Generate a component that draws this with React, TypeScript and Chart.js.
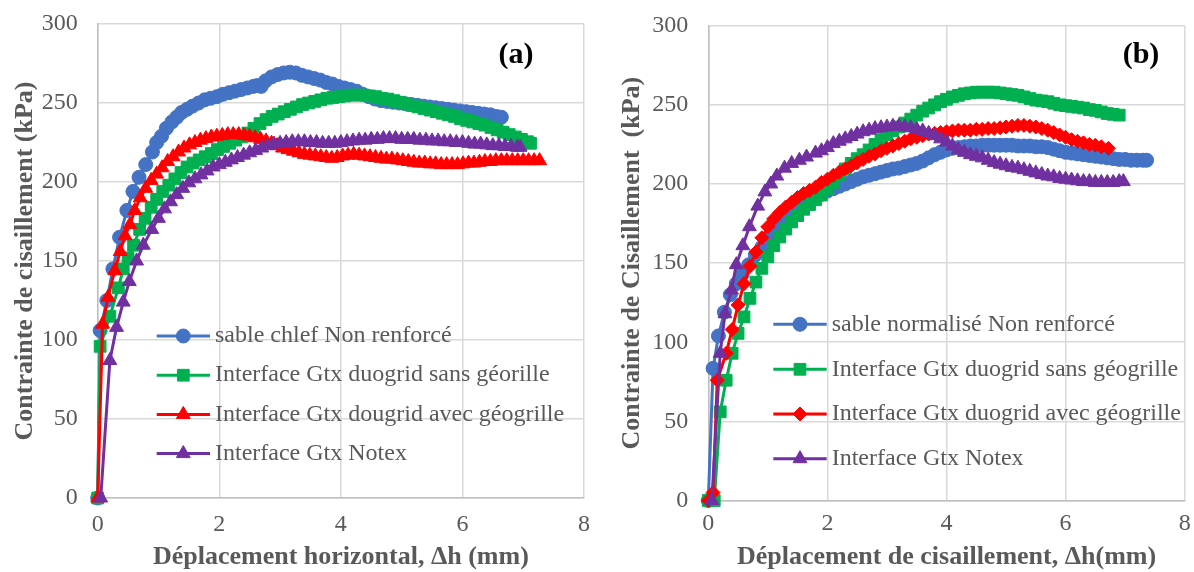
import React, { useEffect, useRef } from "react";
import { Chart, registerables } from "chart.js";

Chart.register(...registerables);

type Pt = [number, number];

// ---------- tick labels ----------
const xTicks = [0, 2, 4, 6, 8];
const yTicks = [0, 50, 100, 150, 200, 250, 300];

// ---------- colours ----------
const BLUE = "#4472C4";
const GREEN = "#00B050";
const RED = "#FF0000";
const PURPLE = "#7030A0";
const TEXT = "#595959";
const GRID = "#d9d9d9";
const FONT = "'Liberation Serif', 'Times New Roman', serif";

// ---------- panel (a) ----------
const aLabels = [
  "sable chlef Non renforcé",
  "Interface Gtx duogrid sans géorille",
  "Interface Gtx dougrid avec géogrille",
  "Interface Gtx Notex",
];

const aSable: Pt[] = [[0,0],[0.04,106],[0.15,125],[0.25,145],[0.36,165],[0.48,182],[0.58,194],[0.68,203],[0.79,211],[0.9,219],[0.97,225],[1.05,229],[1.13,234],[1.22,238],[1.3,241],[1.38,244],[1.47,246],[1.56,248],[1.66,250],[1.76,252],[1.86,253],[1.96,254],[2.06,255.5],[2.16,256.5],[2.26,257.5],[2.36,258.5],[2.46,259.5],[2.56,260.5],[2.62,261],[2.69,260.5],[2.76,264],[2.86,266.5],[2.96,268],[3.06,269],[3.16,269.5],[3.26,269],[3.36,267.5],[3.46,266.5],[3.56,265.5],[3.66,264.5],[3.76,263],[3.86,262],[3.96,260.5],[4.06,259.5],[4.16,258.5],[4.26,257.5],[4.36,255.5],[4.46,254],[4.56,252.5],[4.66,251.5],[4.76,251],[4.86,250.5],[4.96,250],[5.06,249.5],[5.16,249],[5.26,248.5],[5.36,248],[5.46,247.5],[5.56,247],[5.66,246.5],[5.76,246],[5.86,245.5],[5.96,245],[6.06,244.5],[6.16,244],[6.26,243.5],[6.36,243],[6.46,242.5],[6.56,241.5],[6.64,241]];

const aSans: Pt[] = [[0,0],[0.04,96],[0.2,115],[0.34,133],[0.42,145],[0.5,152],[0.59,160],[0.69,170],[0.78,177],[0.88,184],[0.97,189],[1.07,194],[1.17,198],[1.27,202],[1.37,206],[1.47,209.5],[1.57,212],[1.67,214],[1.77,216],[1.87,218],[1.97,220.5],[2.07,222.5],[2.17,224.5],[2.27,226.5],[2.37,228.5],[2.47,231],[2.57,234],[2.67,237],[2.77,239.5],[2.87,241.5],[2.97,243],[3.07,244.5],[3.17,246],[3.27,247.5],[3.37,249],[3.47,250],[3.57,251],[3.67,252],[3.77,253],[3.87,253.5],[3.97,254],[4.07,254.5],[4.17,255],[4.27,255],[4.37,255],[4.47,254.5],[4.57,254],[4.67,253],[4.77,252.5],[4.87,251.5],[4.97,250.5],[5.07,249.5],[5.17,248.5],[5.27,247.5],[5.37,246.5],[5.47,245.5],[5.57,244.5],[5.67,243.5],[5.77,242.5],[5.87,241.5],[5.97,240],[6.07,239],[6.17,238],[6.27,237],[6.37,236],[6.47,234.5],[6.57,233],[6.67,231.5],[6.77,230],[6.87,228.5],[6.97,227],[7.07,225.5],[7.12,224.5]];

const aAvec: Pt[] = [[0,0],[0.08,110],[0.17,127],[0.28,144],[0.37,156],[0.45,166],[0.53,173],[0.61,182],[0.7,190],[0.79,196],[0.88,201],[0.97,205],[1.06,209],[1.15,213],[1.24,216],[1.33,219],[1.42,221.5],[1.51,223.5],[1.6,225],[1.69,226.5],[1.78,227.5],[1.87,228.5],[1.96,229],[2.05,229.5],[2.14,230],[2.23,230],[2.32,230],[2.41,229.5],[2.5,229],[2.59,228],[2.68,227],[2.77,226],[2.86,224.5],[2.95,223],[3.04,221.5],[3.13,220.5],[3.22,219.5],[3.31,218.5],[3.4,217.5],[3.49,217],[3.58,216.5],[3.67,216],[3.76,215.5],[3.85,215],[3.94,215.5],[4.03,216.5],[4.12,217],[4.21,217.5],[4.3,217],[4.39,216.5],[4.48,216],[4.57,215.5],[4.66,215],[4.75,214.5],[4.84,214.5],[4.93,214],[5.02,213.5],[5.11,213],[5.2,212.5],[5.29,212],[5.38,212],[5.47,211.5],[5.56,211.5],[5.65,211],[5.74,211],[5.83,211],[5.92,211],[6.01,211.5],[6.1,212],[6.19,212],[6.28,212.5],[6.37,213],[6.46,213],[6.55,213.5],[6.64,213.5],[6.73,213.5],[6.82,213.5],[6.91,213.5],[7.0,213.5],[7.09,213.5],[7.18,213.5],[7.27,213.5]];

const aNotex: Pt[] = [[0.05,0],[0.2,87],[0.31,108],[0.42,124],[0.52,137],[0.64,150],[0.75,160],[0.89,170],[1.0,177],[1.1,183],[1.2,187.5],[1.3,192],[1.4,196],[1.5,199.5],[1.6,202],[1.7,204.5],[1.8,207],[1.9,209.5],[2.0,211],[2.1,212.5],[2.2,214],[2.3,215.5],[2.4,217],[2.5,218.5],[2.6,220],[2.7,221.5],[2.8,223],[2.9,224],[3.0,224.5],[3.1,225],[3.2,225.5],[3.3,225.5],[3.4,225.5],[3.5,225],[3.6,225],[3.7,224.5],[3.8,224.5],[3.9,224.5],[4.0,225],[4.1,225.5],[4.2,226],[4.3,226.5],[4.4,226.5],[4.5,227],[4.6,227],[4.7,227.5],[4.8,227.5],[4.9,227.5],[5.0,227],[5.1,227],[5.2,227],[5.3,226.5],[5.4,226.5],[5.5,226],[5.6,226],[5.7,225.5],[5.8,225.5],[5.9,225],[6.0,225],[6.1,224.5],[6.2,224],[6.3,224],[6.4,223.5],[6.5,223],[6.6,223],[6.7,222.5],[6.8,222.5],[6.9,222],[6.95,222]];

// ---------- panel (b) ----------
const bLabels = [
  "sable normalisé Non renforcé",
  "Interface Gtx duogrid sans géogrille",
  "Interface Gtx duogrid avec géogrille",
  "Interface Gtx Notex",
];

const bSable: Pt[] = [[0,0],[0.08,83.5],[0.17,104],[0.27,119],[0.37,130],[0.47,137],[0.57,143],[0.68,149],[0.79,155],[0.9,160],[1.0,165],[1.1,169.5],[1.2,173.5],[1.3,177],[1.4,180.5],[1.5,183.5],[1.6,186.5],[1.7,189],[1.8,191.5],[1.9,193.5],[2.0,195.5],[2.1,197],[2.2,198.5],[2.3,200],[2.4,201.5],[2.5,203],[2.6,204.5],[2.7,205.5],[2.8,206.5],[2.9,207.5],[3.0,208.5],[3.1,209.5],[3.2,210],[3.3,211],[3.4,212],[3.5,213],[3.6,214.5],[3.7,216.5],[3.8,218.5],[3.9,220],[4.0,221.5],[4.1,222.5],[4.2,223],[4.3,223.5],[4.4,224],[4.5,224],[4.6,224.5],[4.7,224.5],[4.8,224.5],[4.9,224.5],[5.0,224.5],[5.1,224.5],[5.2,224],[5.3,224],[5.4,224],[5.5,223.5],[5.6,223.5],[5.7,223],[5.8,222],[5.9,221],[6.0,220],[6.1,219.5],[6.2,219],[6.3,218.5],[6.4,218],[6.5,217.5],[6.6,217],[6.7,216.5],[6.8,216],[6.9,215.5],[7.0,215.5],[7.1,215],[7.2,215],[7.3,215],[7.36,215]];

const bSans: Pt[] = [[0,0],[0.1,0],[0.2,56],[0.3,76],[0.4,93],[0.5,105.6],[0.6,116],[0.7,127.7],[0.8,138],[0.9,146.7],[1.0,154],[1.1,161],[1.2,166.5],[1.3,171.5],[1.4,176],[1.5,180],[1.6,184],[1.7,187],[1.8,190],[1.9,193],[2.0,197],[2.1,201],[2.2,205.5],[2.3,209.5],[2.4,213],[2.5,216],[2.6,218.5],[2.7,221.5],[2.8,225],[2.9,228],[3.0,231],[3.1,233.5],[3.2,236],[3.3,238.5],[3.4,241],[3.5,243.5],[3.6,246],[3.7,248],[3.8,250],[3.9,252],[4.0,253.5],[4.1,255],[4.2,256],[4.3,257],[4.4,257.5],[4.5,258],[4.6,258],[4.7,258],[4.8,258],[4.9,257.5],[5.0,257],[5.1,256.5],[5.2,256],[5.3,255],[5.4,254],[5.5,253],[5.6,252.5],[5.7,252],[5.8,251],[5.9,250],[6.0,249.5],[6.1,249],[6.2,248.5],[6.3,248],[6.4,247],[6.5,246.5],[6.6,245.5],[6.7,244.5],[6.8,244],[6.9,243.5]];

const bAvec: Pt[] = [[0,0],[0.08,5],[0.15,76],[0.3,93],[0.4,108],[0.5,123.5],[0.6,137],[0.7,148],[0.8,157],[0.9,166],[1.0,173],[1.1,178],[1.2,182],[1.3,185.5],[1.4,188.5],[1.5,191.5],[1.6,194],[1.7,196],[1.8,198],[1.9,201],[2.0,203],[2.1,205.5],[2.2,207.5],[2.3,209.5],[2.4,211.5],[2.5,213.5],[2.6,215.5],[2.7,217.5],[2.8,219],[2.9,221],[3.0,222.5],[3.1,224],[3.2,225.5],[3.3,227],[3.4,228.5],[3.5,229.5],[3.6,230.5],[3.7,231.5],[3.8,232],[3.9,232.5],[4.0,233],[4.1,233.5],[4.2,234],[4.3,234],[4.4,234],[4.5,234.5],[4.6,234.5],[4.7,235],[4.8,235],[4.9,235.5],[5.0,236],[5.1,236.5],[5.2,237],[5.3,237],[5.4,236.5],[5.5,236],[5.6,235],[5.7,234],[5.8,232.5],[5.9,231],[6.0,229.5],[6.1,228],[6.2,227],[6.3,226],[6.4,225],[6.5,224.5],[6.6,223.5],[6.72,222.5]];

const bNotex: Pt[] = [[0.06,0],[0.2,93],[0.28,118],[0.39,133],[0.47,149],[0.58,161],[0.69,173],[0.83,186],[0.95,195],[1.05,200],[1.15,205],[1.28,210],[1.4,213],[1.53,215],[1.65,217],[1.8,219.5],[1.9,221],[2.0,223],[2.1,225.5],[2.2,227],[2.3,228.5],[2.4,230],[2.5,231.5],[2.6,233],[2.7,234],[2.8,235],[2.9,235.5],[3.0,236],[3.1,236.5],[3.2,236.5],[3.3,236],[3.4,235.5],[3.5,234.5],[3.6,233.5],[3.7,232],[3.8,230.5],[3.9,228.5],[4.0,226.5],[4.1,224],[4.2,221.5],[4.3,220],[4.4,218.5],[4.5,217.5],[4.6,216.5],[4.7,215],[4.8,213.5],[4.9,212.5],[5.0,211.5],[5.1,210.5],[5.2,210],[5.3,209],[5.4,208],[5.5,207],[5.6,206],[5.7,205],[5.8,204.5],[5.9,203.5],[6.0,203],[6.1,202.5],[6.2,202],[6.3,201.5],[6.4,201.5],[6.5,201],[6.6,201],[6.7,201],[6.8,201],[6.9,201.5],[6.97,201.5]];

// ---------- panel specs ----------
type Series = { label: string; data: Pt[]; color: string; shape: string; radius: number };
type Panel = {
  tag: string;
  tagPos: [number, number];
  xTitle: string;
  yTitle: string;
  series: Series[];
  area: { left: number; right: number; top: number; bottom: number };
  yTitlePad: number;
  xTickPad: number;
  legend: { x0: number; x1: number; mx: number; tx: number; rows: number[] };
};

const W = 597;
const H = 572;

const panelA: Panel = {
  tag: "(a)",
  tagPos: [516, 55],
  xTitle: "Déplacement horizontal, Δh (mm)",
  yTitle: "Contrainte de cisaillement (kPa)",
  series: [
    { label: aLabels[0], data: aSable, color: BLUE, shape: "circle", radius: 7 },
    { label: aLabels[1], data: aSans, color: GREEN, shape: "rect", radius: 8.3 },
    { label: aLabels[2], data: aAvec, color: RED, shape: "triangle", radius: 8 },
    { label: aLabels[3], data: aNotex, color: PURPLE, shape: "triangle", radius: 8 },
  ],
  area: { left: 97.7, right: 584, top: 24, bottom: 498 },
  yTitlePad: 12,
  xTickPad: 12,
  legend: { x0: 156.7, x1: 210, mx: 183.3, tx: 215, rows: [336, 375.2, 414.4, 453.6] },
};

const panelB: Panel = {
  tag: "(b)",
  tagPos: [544, 55],
  xTitle: "Déplacement de cisaillement, Δh(mm)",
  yTitle: "Contrainte de Cisaillement  (kPa)",
  series: [
    { label: bLabels[0], data: bSable, color: BLUE, shape: "circle", radius: 7 },
    { label: bLabels[1], data: bSans, color: GREEN, shape: "rect", radius: 8.3 },
    { label: bLabels[2], data: bAvec, color: RED, shape: "rectRot", radius: 7 },
    { label: bLabels[3], data: bNotex, color: PURPLE, shape: "triangle", radius: 8 },
  ],
  area: { left: 111.3, right: 590, top: 25.7, bottom: 500.5 },
  yTitlePad: 22,
  xTickPad: 9,
  legend: { x0: 176.3, x1: 229.7, mx: 203, tx: 234.7, rows: [324.3, 369.3, 414, 458.7] },
};

function drawMarker(ctx: CanvasRenderingContext2D, shape: string, x: number, y: number, r: number, color: string) {
  ctx.save();
  ctx.fillStyle = color;
  ctx.strokeStyle = color;
  ctx.lineWidth = 1;
  ctx.beginPath();
  if (shape === "circle") {
    ctx.arc(x, y, r, 0, Math.PI * 2);
  } else if (shape === "rect") {
    const s = r * Math.SQRT1_2;
    ctx.rect(x - s, y - s, 2 * s, 2 * s);
  } else if (shape === "rectRot") {
    ctx.moveTo(x - r, y);
    ctx.lineTo(x, y - r);
    ctx.lineTo(x + r, y);
    ctx.lineTo(x, y + r);
    ctx.closePath();
  } else {
    let rad = 0;
    ctx.moveTo(x + Math.sin(rad) * r, y - Math.cos(rad) * r);
    rad += (2 * Math.PI) / 3;
    ctx.lineTo(x + Math.sin(rad) * r, y - Math.cos(rad) * r);
    rad += (2 * Math.PI) / 3;
    ctx.lineTo(x + Math.sin(rad) * r, y - Math.cos(rad) * r);
    ctx.closePath();
  }
  ctx.fill();
  ctx.stroke();
  ctx.restore();
}

function makeConfig(p: Panel): any {
  const overlay = {
    id: "overlay" + p.tag,
    afterDatasetsDraw(chart: any) {
      const ctx: CanvasRenderingContext2D = chart.ctx;
      ctx.save();
      p.series.forEach((s, i) => {
        const y = p.legend.rows[i];
        ctx.strokeStyle = s.color;
        ctx.lineWidth = 3;
        ctx.beginPath();
        ctx.moveTo(p.legend.x0, y);
        ctx.lineTo(p.legend.x1, y);
        ctx.stroke();
        drawMarker(ctx, s.shape, p.legend.mx, y, s.radius, s.color);
        ctx.fillStyle = TEXT;
        ctx.font = `24px ${FONT}`;
        ctx.textAlign = "left";
        ctx.textBaseline = "middle";
        ctx.fillText(s.label, p.legend.tx, y);
      });
      ctx.fillStyle = "#000000";
      ctx.font = `bold 30px ${FONT}`;
      ctx.textAlign = "center";
      ctx.textBaseline = "middle";
      ctx.fillText(p.tag, p.tagPos[0], p.tagPos[1]);
      ctx.restore();
    },
  };

  const n = p.series.length;
  return {
    type: "scatter",
    data: {
      datasets: p.series.map((s, i) => ({
        label: s.label,
        data: s.data.map(([x, y]) => ({ x, y })),
        showLine: true,
        borderColor: s.color,
        backgroundColor: s.color,
        borderWidth: 3,
        tension: 0,
        pointStyle: s.shape,
        pointRadius: s.radius,
        pointBorderWidth: 1,
        pointBorderColor: s.color,
        pointBackgroundColor: s.color,
        order: n - 1 - i,
        clip: false,
      })),
    },
    options: {
      responsive: false,
      animation: false,
      events: [],
      layout: { padding: { left: 0, top: p.area.top, right: W - p.area.right, bottom: 0 } },
      plugins: { legend: { display: false }, tooltip: { enabled: false } },
      scales: {
        x: {
          type: "linear",
          min: xTicks[0],
          max: xTicks[xTicks.length - 1],
          ticks: {
            stepSize: xTicks[1] - xTicks[0],
            color: TEXT,
            font: { family: FONT, size: 24 },
            padding: p.xTickPad,
          },
          grid: { color: GRID, lineWidth: 1.5, drawTicks: false },
          border: { color: "#bfbfbf", width: 1.5 },
          title: {
            display: true,
            text: p.xTitle,
            color: TEXT,
            font: { family: FONT, size: 26, weight: "bold", lineHeight: 1 },
            padding: { top: 0, bottom: 2 },
          },
          afterFit: (s: any) => {
            s.height = H - p.area.bottom;
            s.paddingLeft = 0;
            s.paddingRight = 0;
          },
        },
        y: {
          type: "linear",
          min: yTicks[0],
          max: yTicks[yTicks.length - 1],
          ticks: {
            stepSize: yTicks[1] - yTicks[0],
            color: TEXT,
            font: { family: FONT, size: 24 },
            padding: 20,
          },
          grid: { color: GRID, lineWidth: 1.5, drawTicks: false },
          border: { color: "#bfbfbf", width: 1.5 },
          title: {
            display: true,
            text: p.yTitle,
            color: TEXT,
            font: { family: FONT, size: 26, weight: "bold", lineHeight: 1 },
            padding: { top: p.yTitlePad, bottom: 0 },
          },
          afterFit: (s: any) => {
            s.width = p.area.left;
            s.paddingTop = 0;
            s.paddingBottom = 0;
          },
        },
      },
    },
    plugins: [overlay],
  };
}

function PanelChart({ panel, left }: { panel: Panel; left: number }) {
  const ref = useRef<HTMLCanvasElement | null>(null);
  useEffect(() => {
    if (!ref.current) return;
    const chart = new Chart(ref.current, makeConfig(panel));
    return () => chart.destroy();
  }, [panel]);
  return (
    <canvas
      ref={ref}
      width={W}
      height={H}
      style={{ position: "absolute", left, top: 0, width: W, height: H }}
    />
  );
}

export default function App() {
  return (
    <div style={{ position: "absolute", left: 0, top: 0, width: 1194, height: 572, background: "#ffffff", overflow: "hidden" }}>
      <PanelChart panel={panelA} left={0} />
      <PanelChart panel={panelB} left={597} />
    </div>
  );
}
